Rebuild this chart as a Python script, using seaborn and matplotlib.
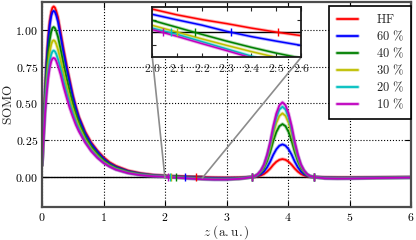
import pandas as pd
import matplotlib
matplotlib.use("Agg")
import matplotlib.pyplot as plt
import matplotlib.patheffects as pe
import seaborn as sns
from mpl_toolkits.axes_grid1.inset_locator import mark_inset

# Datos (SOMO vs z)
z = [0, 0.025, 0.05, 0.075, 0.1, 0.125, 0.15, 0.17, 0.19, 0.21, 0.23,
     0.26, 0.3, 0.35, 0.4, 0.45, 0.5, 0.55, 0.6, 0.7, 0.8, 0.9, 1.0, 1.1, 1.2,
     1.4, 1.6, 1.8, 2.0,
     2.1, 2.2, 2.3, 2.4, 2.5, 2.6,
     2.8, 3.0, 3.2, 3.3,
     3.41, 3.46, 3.51, 3.56, 3.61, 3.66, 3.71, 3.76, 3.81, 3.86, 3.91,
     3.96, 4.01, 4.06, 4.11, 4.16, 4.21, 4.26, 4.31, 4.36, 4.42,
     4.6, 4.8, 5.0, 5.5, 6.0]

somo_hf = [0.08, 0.35, 0.60, 0.80, 0.95, 1.06, 1.125, 1.152, 1.16, 1.152, 1.13,
           1.085, 0.99, 0.87, 0.76, 0.66, 0.56, 0.48, 0.41, 0.31, 0.235, 0.18, 0.135, 0.10, 0.076,
           0.044, 0.026, 0.015, 0.0093,
           0.0070, 0.0051, 0.0035, 0.0017, 0.0001, -0.0013,
           -0.0035, -0.0045, -0.0035, -0.002,
           0, 0.0015, 0.0049, 0.011, 0.0207, 0.0366, 0.0573, 0.083, 0.1037, 0.1171, 0.122,
           0.1171, 0.1037, 0.083, 0.0573, 0.0366, 0.0207, 0.011, 0.0049, 0.0015, 0,
           -0.002, -0.003, -0.003, -0.002, -0.001]

somo_60 = [0.08, 0.342, 0.585, 0.780, 0.926, 1.033, 1.096, 1.122, 1.130, 1.122, 1.101,
           1.055, 0.964, 0.847, 0.740, 0.643, 0.547, 0.469, 0.401, 0.297, 0.225, 0.172, 0.125, 0.092, 0.069,
           0.039, 0.0225, 0.0124, 0.0072,
           0.0050, 0.0029, 0.0004, -0.0017, -0.0035, -0.0052,
           -0.0075, -0.0085, -0.0065, -0.004,
           0, 0.0027, 0.0089, 0.020, 0.0377, 0.0666, 0.1043, 0.151, 0.1887, 0.2131, 0.222,
           0.2131, 0.1887, 0.151, 0.1043, 0.0666, 0.0377, 0.020, 0.0089, 0.0027, 0,
           -0.004, -0.005, -0.005, -0.0035, -0.002]

somo_40 = [0.08, 0.315, 0.532, 0.706, 0.837, 0.933, 0.989, 1.013, 1.020, 1.013, 0.994,
           0.953, 0.874, 0.768, 0.672, 0.584, 0.500, 0.430, 0.370, 0.275, 0.207, 0.157, 0.113, 0.084, 0.062,
           0.034, 0.0186, 0.0095, 0.0048,
           0.0020, -0.0008, -0.0035, -0.0060, -0.0083, -0.0103,
           -0.0130, -0.0135, -0.010, -0.006,
           0, 0.0043, 0.0144, 0.0324, 0.0612, 0.108, 0.1692, 0.2448, 0.306, 0.3456, 0.36,
           0.3456, 0.306, 0.2448, 0.1692, 0.108, 0.0612, 0.0324, 0.0144, 0.0043, 0,
           -0.007, -0.008, -0.0075, -0.005, -0.003]

somo_30 = [0.08, 0.292, 0.489, 0.647, 0.765, 0.851, 0.902, 0.924, 0.930, 0.924, 0.906,
           0.867, 0.799, 0.702, 0.615, 0.535, 0.461, 0.398, 0.344, 0.256, 0.192, 0.144, 0.103, 0.076, 0.0555,
           0.030, 0.0153, 0.0071, 0.0028,
           0.0001, -0.0026, -0.0052, -0.0077, -0.0100, -0.0120,
           -0.0150, -0.0155, -0.0115, -0.007,
           0, 0.0052, 0.0173, 0.039, 0.0736, 0.130, 0.2035, 0.2944, 0.368, 0.4157, 0.433,
           0.4157, 0.368, 0.2944, 0.2035, 0.130, 0.0736, 0.039, 0.0173, 0.0052, 0,
           -0.008, -0.0095, -0.009, -0.006, -0.0035]

somo_20 = [0.08, 0.275, 0.455, 0.600, 0.708, 0.788, 0.834, 0.854, 0.860, 0.854, 0.838,
           0.801, 0.741, 0.651, 0.571, 0.497, 0.431, 0.373, 0.324, 0.243, 0.182, 0.136, 0.098, 0.072, 0.052,
           0.027, 0.0134, 0.0057, 0.0017,
           -0.0008, -0.0037, -0.0066, -0.0095, -0.0122, -0.0145,
           -0.0170, -0.0170, -0.0125, -0.0075,
           0, 0.0057, 0.0191, 0.043, 0.0813, 0.1434, 0.2247, 0.325, 0.4063, 0.4589, 0.478,
           0.4589, 0.4063, 0.325, 0.2247, 0.1434, 0.0813, 0.043, 0.0191, 0.0057, 0,
           -0.009, -0.0105, -0.010, -0.0065, -0.004]

somo_10 = [0.08, 0.263, 0.432, 0.567, 0.668, 0.742, 0.786, 0.805, 0.810, 0.805, 0.790,
           0.755, 0.70, 0.615, 0.54, 0.47, 0.41, 0.355, 0.31, 0.235, 0.175, 0.13, 0.095, 0.07, 0.05,
           0.026, 0.0125, 0.005, 0.0011,
           -0.0016, -0.0045, -0.0073, -0.0102, -0.0128, -0.0150,
           -0.0175, -0.0175, -0.013, -0.008,
           0, 0.0061, 0.0203, 0.0457, 0.0864, 0.1524, 0.2388, 0.3454, 0.4318, 0.4877, 0.508,
           0.4877, 0.4318, 0.3454, 0.2388, 0.1524, 0.0864, 0.0457, 0.0203, 0.0061, 0,
           -0.0095, -0.011, -0.0105, -0.007, -0.004]

series = ["HF", "60 %", "40 %", "30 %", "20 %", "10 %"]
etiquetas = [r"$\mathrm{HF}$", r"$60\ \%$", r"$40\ \%$", r"$30\ \%$", r"$20\ \%$", r"$10\ \%$"]
colores = ["#ff0000", "#0000ff", "#008000", "#bfbf00", "#00bfbf", "#bf00bf"]

# nodos (cruces por cero) de cada curva
nodos_1 = [2.508, 2.317, 2.172, 2.10, 2.075, 2.044]
nodos_2 = [3.41, 4.42]

xticks = [0, 1, 2, 3, 4, 5, 6]
yticks = [0.0, 0.25, 0.5, 0.75, 1.0]
ins_xticks = [2.0, 2.1, 2.2, 2.3, 2.4, 2.5, 2.6]

valores = [somo_hf, somo_60, somo_40, somo_30, somo_20, somo_10]
df = pd.DataFrame({
    "z": z * len(series),
    "somo": sum(valores, []),
    "serie": [s for s in series for _ in z],
})

sns.set_style("ticks")
plt.rcParams["font.family"] = ["DejaVu Serif"]
plt.rcParams["mathtext.fontset"] = "cm"

fig = plt.figure(figsize=(4.16, 2.4), dpi=100)
ax = fig.add_axes([0.101, 0.1375, 0.887, 0.854])


def dibujar(eje, lw):
    sns.lineplot(data=df, x="z", y="somo", hue="serie", hue_order=series,
                 palette=colores, estimator=None, sort=False, legend=False,
                 lw=lw, ax=eje)
    for ln in eje.lines:
        ln.set_path_effects([pe.Stroke(linewidth=lw + 1.3, foreground=ln.get_color(), alpha=0.3),
                             pe.Normal()])
    eje.axhline(0, color="black", lw=1, zorder=1)
    for n1, c in zip(nodos_1, colores):
        eje.plot([n1], [0], "|", color=c, ms=6, mew=1)
        eje.plot(nodos_2, [0, 0], "|", color=c, ms=6, mew=1)


dibujar(ax, 1.3)

ax.set_xlim(0, 6)
ax.set_ylim(-0.204, 1.19)
ax.set_xticks(xticks, labels=[f"${v}$" for v in xticks])
ax.set_yticks(yticks, labels=[f"${v:.2f}$" for v in yticks])
ax.tick_params(direction="in", top=True, right=True, length=4, width=0.8,
               labelsize=8.5, colors="black", pad=3)
ax.grid(True, ls=":", color="black", lw=0.8)
for s in ax.spines.values():
    s.set_linewidth(1.6)
    s.set_color("0.3")
ax.set_xlabel(r"$z\ \mathrm{(a.u.)}$", fontsize=9.5)
ax.set_ylabel(r"$\mathrm{SOMO}$", fontsize=9.5)
ax.xaxis.set_label_coords(0.5, -0.122)
ax.xaxis.label.set_va("center")
ax.yaxis.set_label_coords(-0.092, 0.5)
ax.yaxis.label.set_va("center")

handles = ax.lines[:len(series)]
leg = ax.legend(handles, etiquetas, loc="upper right", bbox_to_anchor=(1.0, 0.982),
                fontsize=9, frameon=True, fancybox=False, edgecolor="black",
                borderaxespad=0, handlelength=1.7, labelspacing=0.22,
                handletextpad=1.4, borderpad=0.6)
leg.get_frame().set_linewidth(1.2)
leg.get_frame().set_alpha(1)

# Recuadro ampliado
axins = ax.inset_axes([0.299, 0.730, 0.403, 0.244])
axins.set_facecolor("white")
dibujar(axins, 1.1)
axins.set_xlim(2.0, 2.6)
axins.set_ylim(-0.01, 0.01)
axins.set_xticks(ins_xticks, labels=[f"${v:.1f}$" for v in ins_xticks])
axins.set_yticks([-0.005, 0, 0.005], labels=[])
axins.set_xlabel("")
axins.set_ylabel("")
axins.tick_params(direction="in", top=True, right=True, length=3, width=0.8,
                  labelsize=8.5, pad=3)
for s in axins.spines.values():
    s.set_linewidth(1.3)
    s.set_color("0.1")
mark_inset(ax, axins, loc1=3, loc2=4, fc="none", ec="0.55", lw=1.2)

fig.savefig("out.png", dpi=100)
